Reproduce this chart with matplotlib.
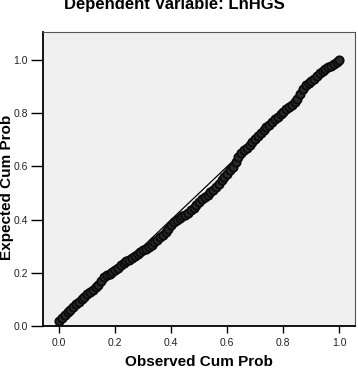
import matplotlib
matplotlib.use("Agg")
import matplotlib.pyplot as plt

# observed vs expected cumulative probability
observed = [0.00, 0.01, 0.02, 0.03, 0.04, 0.05, 0.06, 0.07, 0.08, 0.09,
            0.10, 0.11, 0.12, 0.13, 0.14, 0.15, 0.16, 0.17, 0.18, 0.19,
            0.20, 0.21, 0.22, 0.23, 0.24, 0.25, 0.26, 0.27, 0.28, 0.29,
            0.30, 0.31, 0.32, 0.33, 0.34, 0.35, 0.36, 0.37, 0.38, 0.39,
            0.40, 0.41, 0.42, 0.43, 0.44, 0.45, 0.46, 0.47, 0.48, 0.49,
            0.50, 0.51, 0.52, 0.53, 0.54, 0.55, 0.56, 0.57, 0.58, 0.59,
            0.60, 0.61, 0.62, 0.63, 0.64, 0.65, 0.66, 0.67, 0.68, 0.69,
            0.70, 0.71, 0.72, 0.73, 0.74, 0.75, 0.76, 0.77, 0.78, 0.79,
            0.80, 0.81, 0.82, 0.83, 0.84, 0.85, 0.86, 0.87, 0.88, 0.89,
            0.90, 0.91, 0.92, 0.93, 0.94, 0.95, 0.96, 0.97, 0.98, 0.99,
            1.00]
expected = [0.020, 0.030, 0.040, 0.052, 0.062, 0.072, 0.083, 0.092, 0.100, 0.109,
            0.119, 0.127, 0.135, 0.145, 0.155, 0.170, 0.183, 0.190, 0.197, 0.203,
            0.210, 0.218, 0.228, 0.236, 0.243, 0.249, 0.255, 0.262, 0.270, 0.278,
            0.285, 0.291, 0.298, 0.305, 0.314, 0.324, 0.334, 0.343, 0.352, 0.364,
            0.378, 0.391, 0.400, 0.407, 0.413, 0.419, 0.426, 0.435, 0.444, 0.455,
            0.466, 0.476, 0.485, 0.494, 0.503, 0.513, 0.523, 0.534, 0.547, 0.560,
            0.573, 0.585, 0.598, 0.615, 0.635, 0.650, 0.660, 0.670, 0.680, 0.690,
            0.702, 0.714, 0.727, 0.737, 0.747, 0.757, 0.767, 0.777, 0.787, 0.796,
            0.805, 0.814, 0.823, 0.832, 0.842, 0.855, 0.872, 0.892, 0.905, 0.913,
            0.920, 0.928, 0.940, 0.952, 0.960, 0.966, 0.972, 0.979, 0.986, 0.993,
            0.998]
ticks = [0.0, 0.2, 0.4, 0.6, 0.8, 1.0]
tick_labels = ["0.0", "0.2", "0.4", "0.6", "0.8", "1.0"]

plt.rcParams['font.family'] = ['Liberation Sans', 'DejaVu Sans']

fig = plt.figure(figsize=(3.58, 3.68), dpi=100)
ax = fig.add_axes([43 / 358, 42 / 368, 312 / 358, 294.5 / 368])
ax.set_facecolor('#f0f0f0')

ax.plot([0, 1], [0, 1], color='black', linewidth=0.9, zorder=2)
ax.plot(observed, expected, linestyle='none', marker='o', markersize=6,
        markerfacecolor='#2a2a2a', markeredgecolor='#0a0a0a', markeredgewidth=1.3, zorder=3)

ax.set_xlim(-0.058, 1.056)
ax.set_ylim(0.0, 1.107)
ax.set_xticks(ticks)
ax.set_xticklabels(tick_labels)
ax.set_yticks(ticks)
ax.set_yticklabels(tick_labels)
ax.tick_params(axis='x', length=5, width=1, pad=4, labelsize=7.5, colors='black', labelcolor='#222222')
ax.tick_params(axis='y', length=9, width=1, pad=2, labelsize=7.5, colors='black', labelcolor='#222222')

for side in ['left', 'bottom']:
    ax.spines[side].set_linewidth(1.3)
    ax.spines[side].set_color('black')
for side in ['top', 'right']:
    ax.spines[side].set_linewidth(0.8)
    ax.spines[side].set_color('#555555')

ax.set_xlabel('Observed Cum Prob', fontsize=11, fontweight='bold', labelpad=5)
ax.set_ylabel('Expected Cum Prob', fontsize=11, fontweight='bold')
ax.yaxis.set_label_coords((14 - 43) / 312, 0.47)
fig.text(0.486, 1 - 9 / 368, 'Dependent Variable: LnHGS', fontsize=12,
         fontweight='bold', ha='center', va='baseline')

fig.savefig('out.png', dpi=100)
